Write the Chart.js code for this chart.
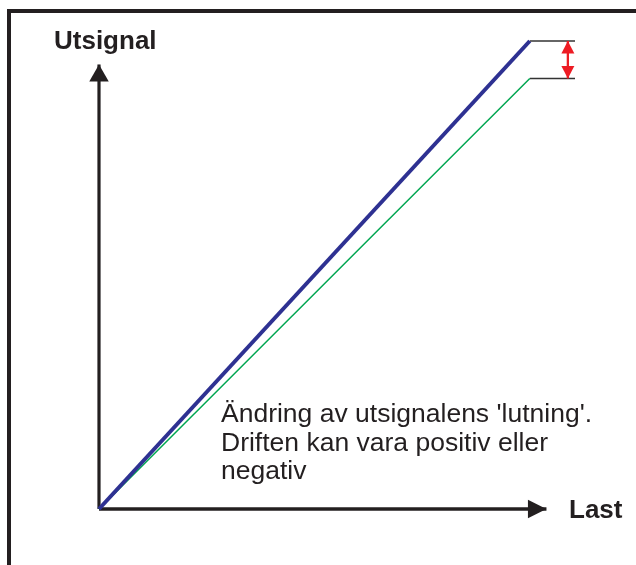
<!DOCTYPE html>
<html>
<head>
<meta charset="utf-8">
<script src="https://cdn.jsdelivr.net/npm/chart.js@4"></script>
<style>
  html, body { margin: 0; padding: 0; background: #fff; overflow: hidden; }
  #frame {
    position: absolute; left: 7px; top: 9px; width: 700px; height: 700px;
    border-top: 4px solid #231f20; border-left: 4px solid #231f20;
  }
  #wrap { position: absolute; left: 0; top: 0; width: 636px; height: 565px; }
</style>
</head>
<body>
<div id="frame"></div>
<div id="wrap"><canvas id="driftChart" width="636" height="565"></canvas></div>
<script>
// Load (x) and output signal (y), both in percent of full scale
const loadPoints = [0, 90.5];
const outputNominal = [0, 100];
const outputDrifted = [0, 92];

// Axis extents (arrow tips)
const loadAxis = [0, 94];
const signalAxis = [0, 95];

// Marker for the drift between the two end points
const markerLoad = [90.5, 100];
const driftLoad = 98.5;

const noteLines = [
  "Ändring av utsignalens 'lutning'.",
  'Driften kan vara positiv eller',
  'negativ',
];

const toXY = (xs, ys) => xs.map((x, i) => ({ x: x, y: ys[i] }));

const ctx = document.getElementById('driftChart').getContext('2d');
const FONT = '"Liberation Sans", Arial, sans-serif';
const INK = '#231f20';

// Draw filled arrow heads at the ends of datasets that ask for them
const arrowHeads = {
  id: 'arrowHeads',
  afterDatasetsDraw(chart) {
    const c = chart.ctx;
    chart.data.datasets.forEach((ds, i) => {
      if (!ds.arrowEnd && !ds.arrowStart) return;
      const pts = chart.getDatasetMeta(i).data;
      const head = (tip, from) => {
        const dx = tip.x - from.x;
        const dy = tip.y - from.y;
        const len = Math.hypot(dx, dy);
        const ux = dx / len;
        const uy = dy / len;
        const bx = tip.x - ux * ds.arrowLength;
        const by = tip.y - uy * ds.arrowLength;
        const hw = ds.arrowWidth / 2;
        c.beginPath();
        c.moveTo(tip.x, tip.y);
        c.lineTo(bx - uy * hw, by + ux * hw);
        c.lineTo(bx + uy * hw, by - ux * hw);
        c.closePath();
        c.fill();
      };
      c.save();
      c.fillStyle = ds.borderColor;
      if (ds.arrowEnd) head(pts[pts.length - 1], pts[pts.length - 2]);
      if (ds.arrowStart) head(pts[0], pts[1]);
      c.restore();
    });
  },
};

// Axis labels and the note
const labels = {
  id: 'labels',
  afterDraw(chart) {
    const c = chart.ctx;
    c.save();
    c.fillStyle = INK;
    c.textBaseline = 'alphabetic';
    c.font = 'bold 26px ' + FONT;
    c.fillText('Utsignal', 54, 49);
    c.fillText('Last', 569, 518);
    c.font = '26.5px ' + FONT;
    noteLines.forEach((t, i) => c.fillText(t, 221, 422 + i * 28.5));
    c.restore();
  },
};

const driftChart = new Chart(ctx, {
  type: 'line',
  data: {
    datasets: [
      {
        data: toXY(loadPoints, outputNominal),
        borderColor: '#2e3192',
        borderWidth: 4,
        order: 1,
      },
      {
        data: toXY(loadPoints, outputDrifted),
        borderColor: '#00a651',
        borderWidth: 1.5,
        order: 2,
      },
      {
        data: toXY([0, 0], signalAxis),
        borderColor: INK,
        borderWidth: 3.2,
        arrowEnd: true,
        arrowLength: 17,
        arrowWidth: 19.5,
        order: 3,
      },
      {
        data: toXY(loadAxis, [0, 0]),
        borderColor: INK,
        borderWidth: 3.5,
        arrowEnd: true,
        arrowLength: 18.5,
        arrowWidth: 18.5,
        order: 3,
      },
      {
        data: toXY(markerLoad, [outputNominal[1], outputNominal[1]]),
        borderColor: '#333333',
        borderWidth: 1.4,
        order: 4,
      },
      {
        data: toXY(markerLoad, [outputDrifted[1], outputDrifted[1]]),
        borderColor: '#333333',
        borderWidth: 1.4,
        order: 4,
      },
      {
        data: toXY([driftLoad, driftLoad], [outputNominal[1], outputDrifted[1]]),
        borderColor: '#ed1c24',
        borderWidth: 2.3,
        arrowEnd: true,
        arrowStart: true,
        arrowLength: 12.5,
        arrowWidth: 13,
        order: 0,
      },
    ],
  },
  options: {
    responsive: false,
    animation: false,
    layout: { padding: { left: 99, right: 61, top: 41, bottom: 56 } },
    datasets: { line: { clip: false, tension: 0, pointRadius: 0, pointHoverRadius: 0 } },
    scales: {
      x: { type: 'linear', min: 0, max: 100, display: false },
      y: { type: 'linear', min: 0, max: 100, display: false },
    },
    plugins: {
      legend: { display: false },
      tooltip: { enabled: false },
    },
  },
  plugins: [arrowHeads, labels],
});
</script>
</body>
</html>
